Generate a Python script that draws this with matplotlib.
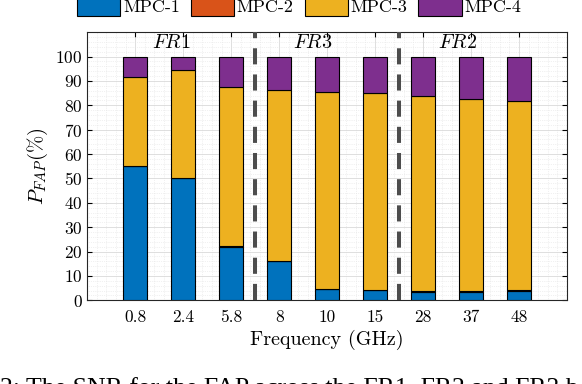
import numpy as np
import matplotlib
matplotlib.use('Agg')
import matplotlib.pyplot as plt
from matplotlib.ticker import MultipleLocator

plt.rcParams['font.family'] = 'serif'
plt.rcParams['font.serif'] = ['cmr10', 'DejaVu Serif']
plt.rcParams['mathtext.fontset'] = 'cm'
plt.rcParams['axes.formatter.use_mathtext'] = True

freqs = ['0.8', '2.4', '5.8', '8', '10', '15', '28', '37', '48']
mpc1 = [55.0, 50.0, 22.0, 16.0, 4.6, 4.2, 3.6, 3.6, 3.9]
mpc2 = [0.3, 0.1, 0.1, 0.1, 0.2, 0.1, 0.3, 0.2, 0.2]
mpc3 = [36.2, 44.3, 65.6, 70.3, 80.6, 80.8, 79.9, 79.0, 77.6]
mpc4 = [8.5, 5.6, 12.3, 13.6, 14.6, 14.9, 16.2, 17.2, 18.3]
names = ['MPC-1', 'MPC-2', 'MPC-3', 'MPC-4']
colors = ['#0072BD', '#D95319', '#EDB120', '#7E2F8E']
bands = ['$FR1$', '$FR3$', '$FR2$']
band_x = [1.75, 4.7, 7.72]
sep_x = [3.5, 6.5]

fig = plt.figure(figsize=(5.82, 3.84), dpi=100)
ax = fig.add_axes([0.150, 0.218, 0.824, 0.698])

x = np.arange(1, len(freqs) + 1)
bottom = np.zeros(len(freqs))
for vals, name, col in zip([mpc1, mpc2, mpc3, mpc4], names, colors):
    ax.bar(x, vals, 0.5, bottom=bottom, color=col, edgecolor='black', linewidth=0.8, label=name, zorder=3)
    bottom += np.array(vals)

for s in sep_x:
    ax.axvline(s, color='#4d4d4d', linestyle=(0, (4, 2.5)), linewidth=2.9, zorder=4)
for lab, bx in zip(bands, band_x):
    ax.text(bx, 105.5, lab, ha='center', va='center', fontsize=14.5, zorder=5)

ax.set_xlim(0, 10)
ax.set_ylim(0, 110)
ax.set_xticks(x)
ax.set_xticklabels(freqs)
ax.set_yticks(np.arange(0, 101, 10))
ax.yaxis.set_minor_locator(MultipleLocator(2))
ax.xaxis.set_minor_locator(MultipleLocator(0.2))
ax.tick_params(which='both', direction='in', top=True, right=True, labelsize=12.5)
ax.tick_params(which='minor', length=0)
ax.tick_params(axis='x', pad=7)
ax.grid(which='major', color='#d9d9d9', linewidth=0.6, zorder=0)
ax.grid(which='minor', color='#e3e3e3', linestyle=':', linewidth=0.5, zorder=0)
ax.set_axisbelow(True)
for sp in ax.spines.values():
    sp.set_color('#262626')

ax.set_xlabel('Frequency (GHz)', fontsize=14.5, labelpad=3)
ax.set_ylabel('$P_{FAP}(\\%)$', fontsize=15)

fig.legend(loc='lower center', bbox_to_anchor=(0.514, 0.958), ncol=4, frameon=False,
           fontsize=13, handlelength=2.4, handleheight=1.3, columnspacing=0.6,
           handletextpad=0.15, borderaxespad=0, borderpad=0)

fig.text(0.0, 0.014, '2: The SNR for the FAP across the FR1, FR2 and FR3 b',
         family='Liberation Serif', fontsize=18.5, va='top', ha='left')

fig.savefig('out.png', dpi=100)
